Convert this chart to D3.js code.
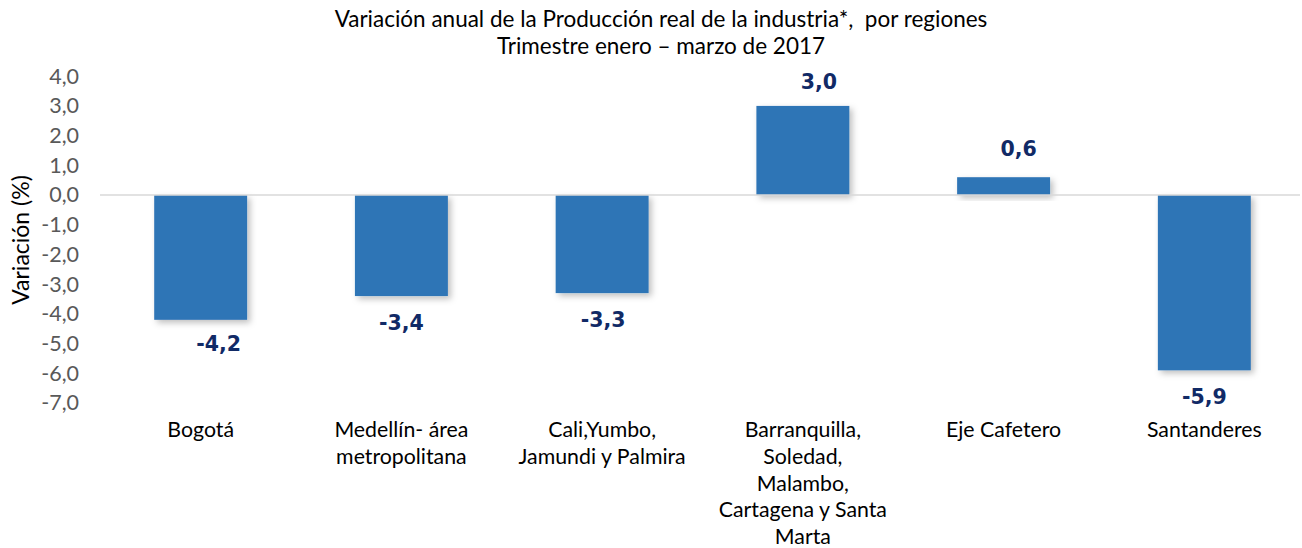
<!DOCTYPE html>
<html>
<head>
<meta charset="utf-8">
<script src="https://cdn.jsdelivr.net/npm/d3@7"></script>
<style>
  body { margin: 0; background: #fff; }
  svg { display: block; }
</style>
</head>
<body>
<div id="chart"></div>
<script>
const regions = [
    ["Bogotá"],
    ["Medellín- área", "metropolitana"],
    ["Cali,Yumbo,", "Jamundi y Palmira"],
    ["Barranquilla,", "Soledad,", "Malambo,", "Cartagena y Santa", "Marta"],
    ["Eje Cafetero"],
    ["Santanderes"]
];
const variacion = [-4.2, -3.4, -3.3, 3.0, 0.6, -5.9];
const yTicks = [4, 3, 2, 1, 0, -1, -2, -3, -4, -5, -6, -7];
const titleLines = ["Variación anual de la Producción real de la industria*,  por regiones", "Trimestre enero – marzo de 2017"];
// manual nudges of the data labels, as placed in the original
const labelDx = [18, 0, 1, 16, 15, 0];
const labelDy = [-3, 0, 0, 0, -4, 0];

const W = 1302, H = 548;
const locale = d3.formatLocale({ decimal: ",", thousands: ".", grouping: [3], currency: ["", ""], minus: "-" });
const fmt = locale.format(".1f");

const svg = d3.select("#chart").append("svg")
    .attr("width", W)
    .attr("height", H);

const defs = svg.append("defs");
const shadow = defs.append("filter").attr("id", "shadow")
    .attr("x", "-20%").attr("y", "-20%").attr("width", "150%").attr("height", "150%");
shadow.append("feDropShadow")
    .attr("dx", 3).attr("dy", 3).attr("stdDeviation", 3)
    .attr("flood-color", "#000").attr("flood-opacity", 0.25);

const x = d3.scaleBand().domain(d3.range(regions.length)).range([100, 1305]).paddingInner(0.537).paddingOuter(0.27);
const y = d3.scaleLinear().domain([-7, 4]).range([403, 76.2]);

// title
svg.append("g").selectAll("text")
    .data(titleLines)
    .enter().append("text")
    .attr("x", 661)
    .attr("y", (d, i) => 27 + i * 27)
    .attr("text-anchor", "middle")
    .style("white-space", "pre")
    .style("font-family", "Lato, 'Open Sans', sans-serif")
    .style("font-size", "22.5px")
    .style("fill", "#000")
    .text(d => d);

// y axis
const yAxis = svg.append("g")
    .attr("transform", "translate(84,0)")
    .call(d3.axisLeft(y).tickValues(yTicks).tickFormat(fmt).tickSize(0).tickPadding(5));
yAxis.select(".domain").remove();
yAxis.selectAll("text")
    .style("font-family", "Lato, 'Open Sans', sans-serif")
    .style("font-size", "21.5px")
    .style("fill", "#595959");

svg.append("text")
    .attr("transform", "translate(29,240) rotate(-90)")
    .attr("text-anchor", "middle")
    .style("font-family", "Lato, 'Open Sans', sans-serif")
    .style("font-size", "23px")
    .style("fill", "#000")
    .text("Variación (%)");

// bars
svg.append("g").selectAll("rect")
    .data(variacion)
    .enter().append("rect")
    .attr("x", (d, i) => x(i))
    .attr("width", x.bandwidth())
    .attr("y", d => y(Math.max(0, d)))
    .attr("height", d => Math.abs(y(d) - y(0)))
    .attr("fill", "#2e75b6")
    .attr("filter", "url(#shadow)");

// zero line
svg.append("line")
    .attr("x1", 100).attr("x2", 1300)
    .attr("y1", y(0)).attr("y2", y(0))
    .attr("stroke", "#d9d9d9")
    .attr("stroke-width", 1.5);

// data labels
svg.append("g").selectAll("text")
    .data(variacion)
    .enter().append("text")
    .attr("x", (d, i) => x(i) + x.bandwidth() / 2 + labelDx[i])
    .attr("y", (d, i) => (d < 0 ? y(d) + 34 : y(d) - 17) + labelDy[i])
    .attr("text-anchor", "middle")
    .style("font-family", "'DejaVu Sans', Verdana, sans-serif")
    .style("font-weight", "bold")
    .style("font-size", "20.5px")
    .style("fill", "#112a66")
    .text(d => fmt(d));

// category labels
const cats = svg.append("g").selectAll("text")
    .data(regions)
    .enter().append("text")
    .attr("text-anchor", "middle")
    .style("font-family", "Lato, 'Open Sans', sans-serif")
    .style("font-size", "21.3px")
    .style("fill", "#000");
cats.each(function(lines, i) {
    d3.select(this).selectAll("tspan")
        .data(lines)
        .enter().append("tspan")
        .attr("x", x(i) + x.bandwidth() / 2)
        .attr("y", (d, j) => 437 + j * 26.8)
        .text(d => d);
});
</script>
</body>
</html>
